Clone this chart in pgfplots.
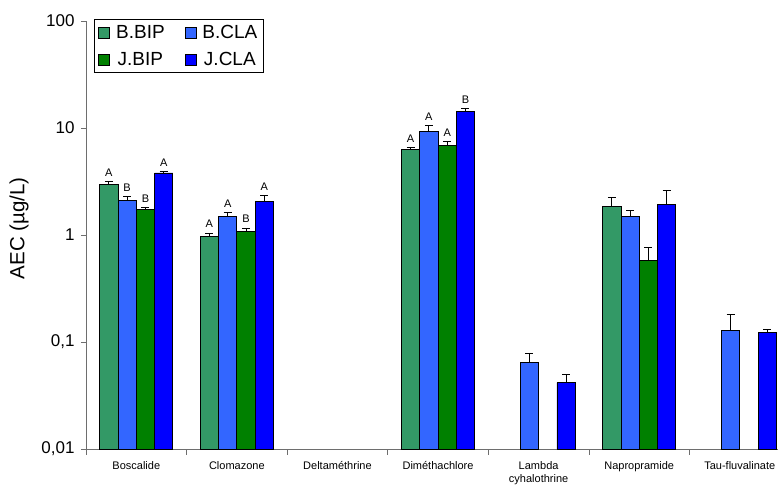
\documentclass[border=0pt]{standalone}
\usepackage{pgfplots}
\pgfplotsset{compat=1.18}
\usepackage{pgfplotstable}
\usepackage{fontspec}
\setmainfont{Liberation Sans}
\definecolor{BBIP}{RGB}{51,153,102}
\definecolor{BCLA}{RGB}{51,102,255}
\definecolor{JBIP}{RGB}{0,128,0}
\definecolor{JCLA}{RGB}{0,0,255}
\definecolor{axgray}{RGB}{110,110,110}
\pgfplotstableread{
x y e
0 2.98 0.17
1 0.97 0.07
3 6.27 0.33
5 1.85 0.40
}\tBBIP
\pgfplotstableread{
x y e
0 2.09 0.19
1 1.50 0.13
3 9.3 1.2
4 0.064 0.015
5 1.50 0.20
6 0.128 0.052
}\tBCLA
\pgfplotstableread{
x y e
0 1.74 0.07
1 1.07 0.09
3 6.93 0.57
5 0.58 0.19
}\tJBIP
\pgfplotstableread{
x y e
0 3.80 0.14
1 2.07 0.28
3 14.3 1.0
4 0.0417 0.0083
5 1.94 0.69
6 0.123 0.007
}\tJCLA
\pgfplotsset{
  errb/.style={error bars/.cd, y dir=plus, y explicit,
    error bar style={black, line width=0.8pt},
    error mark options={black, line width=0.8pt, mark size=4pt, rotate=90}},
}
\begin{document}
\begin{tikzpicture}
\begin{axis}[
  scale only axis,
  width=692pt, height=428pt,
  xmin=-0.5, xmax=6.38,
  ymode=log, ymin=0.01, ymax=100,
  log origin=infty,
  ybar=0pt, bar width=18.3pt,
  axis x line*=bottom, axis y line*=left,
  axis line style={draw=axgray, line width=0.8pt, -},
  tick style={draw=axgray, line width=0.8pt},
  tick align=outside,
  ytick={0.01,0.1,1,10,100},
  yticklabels={{0,01},{0,1},1,10,100},
  yminorticks=false,
  major tick length=5pt,
  y tick label style={font=\fontsize{17}{20}\selectfont, xshift=-3pt},
  xtick={0,...,6},
  xticklabels={Boscalide,Clomazone,Deltaméthrine,Diméthachlore,{Lambda\\cyhalothrine},Napropramide,Tau-fluvalinate},
  x tick style={draw=none},
  minor xtick={-0.5,0.5,1.5,2.5,3.5,4.5,5.5},
  minor tick length=6pt,
  minor x tick style={draw=axgray, line width=0.8pt},
  x tick label style={font=\fontsize{11}{12.5}\selectfont, align=center, yshift=-4pt},
  ylabel={AEC (µg/L)},
  every axis y label/.style={at={(axis description cs:0,0.516)}, xshift=-67pt, rotate=90, anchor=center, font=\fontsize{20.5}{24}\selectfont},
  legend columns=2,
  legend style={at={(axis description cs:0.0116,1.005)}, anchor=north west, draw=black, line width=0.8pt,
    font=\fontsize{19}{22}\selectfont, inner xsep=4pt, inner ysep=4pt, row sep=8pt,
    /tikz/every odd column/.append style={column sep=4pt},
    /tikz/every even column/.append style={column sep=18pt}},
  legend image code/.code={\draw[#1, draw=black, line width=0.7pt] (0pt,-5.5pt) rectangle (11pt,5.5pt);},
]
\addplot[fill=BBIP, draw=black, line width=0.8pt, errb] table[x=x, y=y, y error=e]{\tBBIP};
\addplot[fill=BCLA, draw=black, line width=0.8pt, errb] table[x=x, y=y, y error=e]{\tBCLA};
\addplot[fill=JBIP, draw=black, line width=0.8pt, errb] table[x=x, y=y, y error=e]{\tJBIP};
\addplot[fill=JCLA, draw=black, line width=0.8pt, errb] table[x=x, y=y, y error=e]{\tJCLA};
\legend{B.BIP,B.CLA,J.BIP,J.CLA}
\coordinate (sw) at (rel axis cs:0,0);
\coordinate (ne) at (rel axis cs:1,1);
\begin{scope}[every node/.style={font=\fontsize{11}{12}\selectfont, anchor=south, inner sep=0pt, yshift=5pt}]
\node at (axis cs:-0.273,3.15) {A};
\node at (axis cs:-0.091,2.28) {B};
\node at (axis cs:0.091,1.81) {B};
\node at (axis cs:0.273,3.94) {A};
\node at (axis cs:0.727,1.04) {A};
\node at (axis cs:0.909,1.63) {A};
\node at (axis cs:1.091,1.16) {B};
\node at (axis cs:1.273,2.35) {A};
\node at (axis cs:2.727,6.6) {A};
\node at (axis cs:2.909,10.5) {A};
\node at (axis cs:3.091,7.5) {A};
\node at (axis cs:3.273,15.3) {B};
\end{scope}
\end{axis}
\pgfresetboundingbox
\path[use as bounding box] ([xshift=-86pt,yshift=-35pt]sw) rectangle ([yshift=21pt]ne);
\end{tikzpicture}
\end{document}
